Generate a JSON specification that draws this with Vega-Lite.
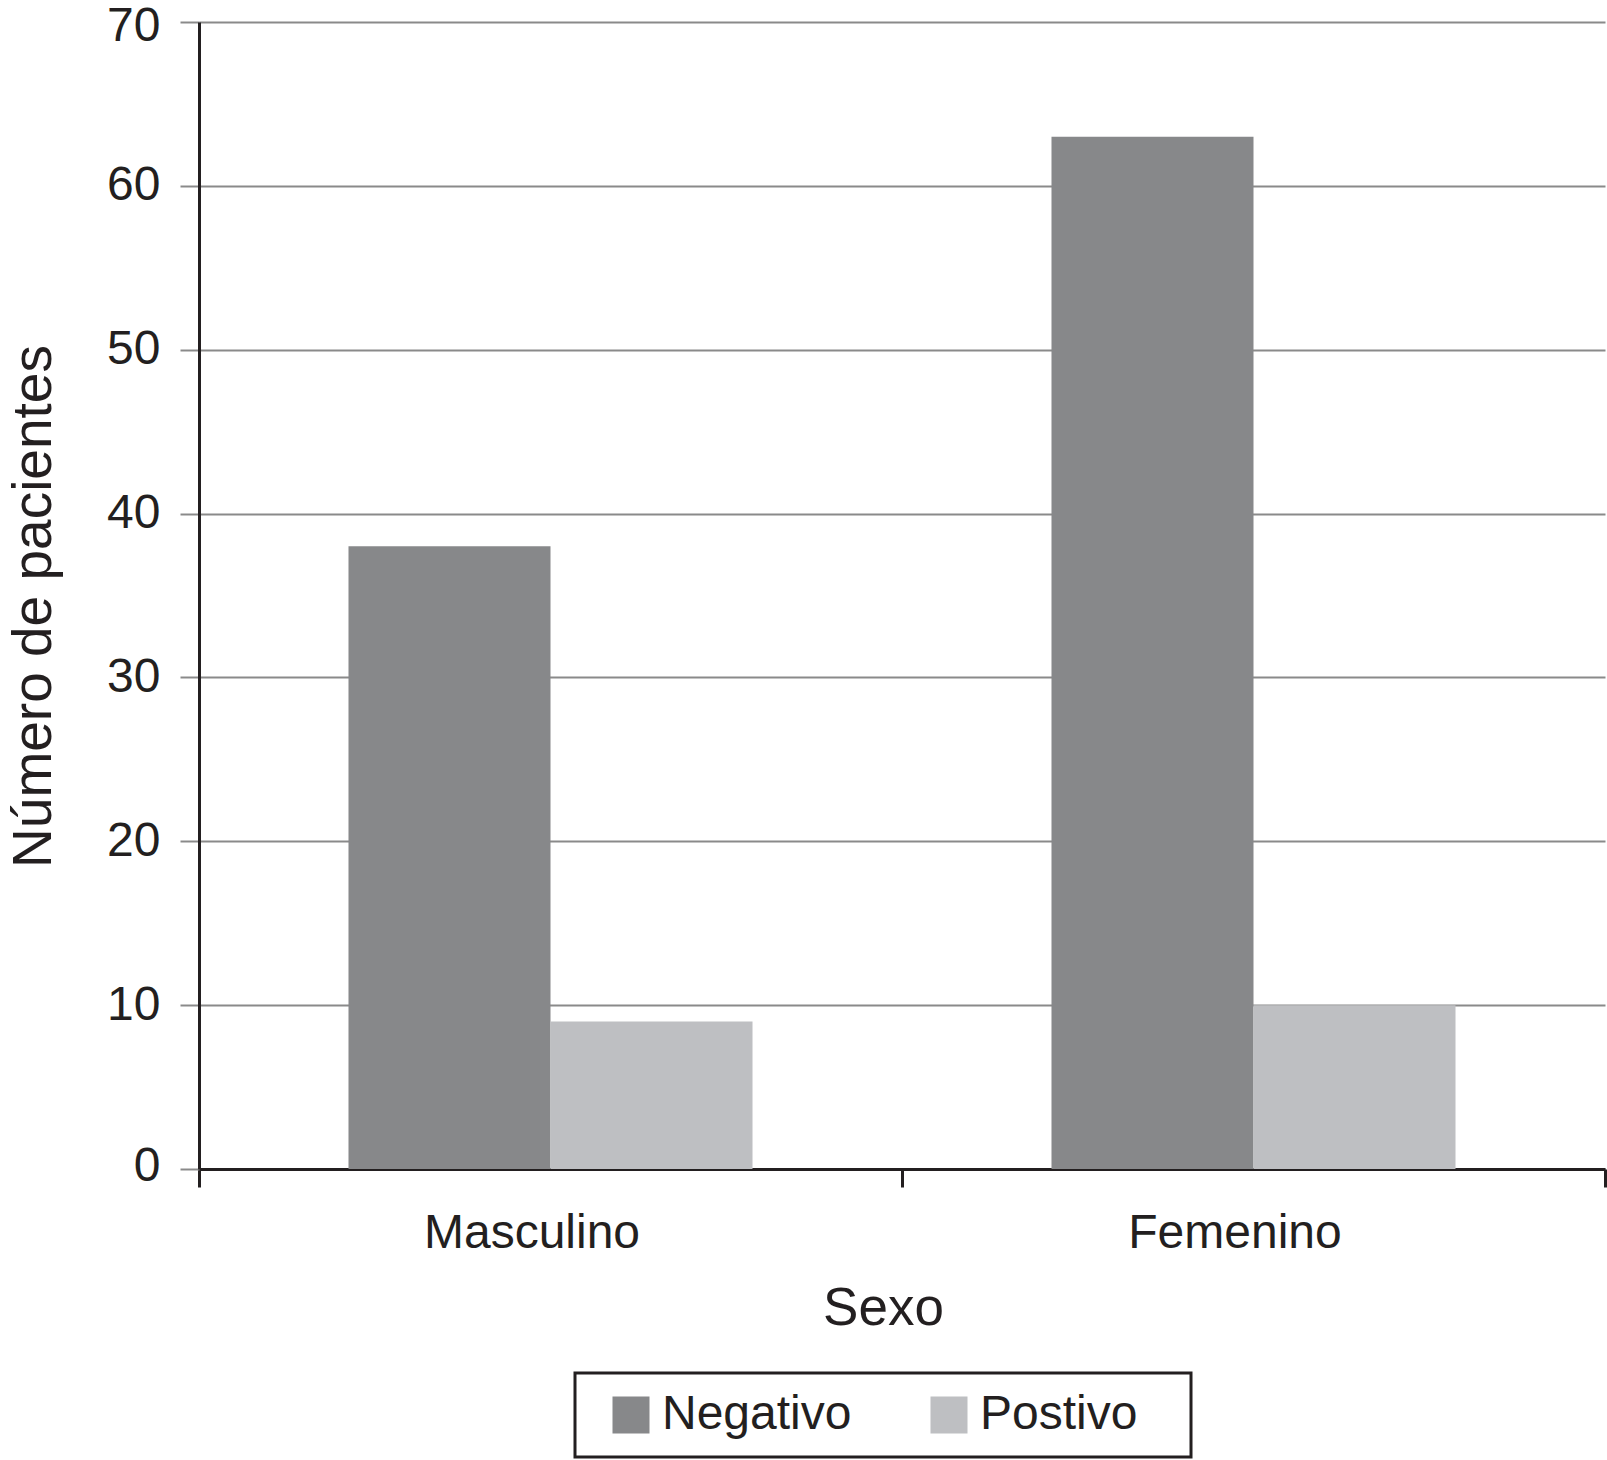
{
  "$schema": "https://vega.github.io/schema/vega-lite/v6.json",
  "width": 1406,
  "height": 1147,
  "autosize": {"type": "none"},
  "padding": {"left": 199, "top": 22, "right": 2, "bottom": 291},
  "background": "white",
  "config": {"view": {"stroke": null}, "font": "Liberation Sans"},
  "data": {
    "values": [
      {"sexo": "Masculino", "resultado": "Negativo", "n": 38},
      {"sexo": "Masculino", "resultado": "Postivo", "n": 9},
      {"sexo": "Femenino", "resultado": "Negativo", "n": 63},
      {"sexo": "Femenino", "resultado": "Postivo", "n": 10}
    ]
  },
  "mark": {"type": "bar"},
  "encoding": {
    "x": {
      "field": "sexo",
      "type": "nominal",
      "sort": ["Masculino", "Femenino"],
      "scale": {"paddingInner": 0, "paddingOuter": 0},
      "axis": {
        "labelAngle": 0,
        "labelFontSize": 48,
        "labelLimit": 500,
        "labelColor": "#231f20",
        "labelPadding": 22,
        "labelOffset": -19,
        "tickBand": "extent",
        "tickColor": "#231f20",
        "tickWidth": 3,
        "tickSize": 18,
        "domainColor": "#231f20",
        "domainWidth": 3,
        "grid": false,
        "title": "Sexo",
        "titleFontSize": 53,
        "titleFontWeight": "normal",
        "titleColor": "#231f20",
        "titleX": 684,
        "titleY": 155,
        "titleBaseline": "alphabetic",
        "titleAlign": "center"
      }
    },
    "xOffset": {
      "field": "resultado",
      "type": "nominal",
      "sort": ["Negativo", "Postivo"],
      "scale": {"paddingOuter": 0.74, "paddingInner": 0}
    },
    "y": {
      "field": "n",
      "type": "quantitative",
      "scale": {"domain": [0, 70], "nice": false},
      "axis": {
        "values": [0, 10, 20, 30, 40, 50, 60, 70],
        "grid": true,
        "gridColor": "#8a8a8a",
        "gridWidth": 2,
        "tickColor": "#8a8a8a",
        "tickWidth": 2,
        "tickSize": 19,
        "domainColor": "#231f20",
        "domainWidth": 3,
        "labelFontSize": 48,
        "labelColor": "#231f20",
        "labelPadding": 20,
        "labelOffset": {"condition": [{"test": "datum.value == 70", "value": 4}, {"test": "datum.value == 0", "value": -3}], "value": 0},
        "title": "Número de pacientes",
        "titleFontSize": 55,
        "titleFontWeight": "normal",
        "titleColor": "#231f20",
        "titleAngle": -90,
        "titleX": -149,
        "titleY": 584,
        "titleBaseline": "alphabetic",
        "titleAlign": "center"
      }
    },
    "color": {
      "field": "resultado",
      "type": "nominal",
      "scale": {"domain": ["Negativo", "Postivo"], "range": ["#87888a", "#bebfc2"]},
      "legend": {
        "title": null,
        "orient": "none",
        "legendX": 376,
        "legendY": 1351,
        "direction": "horizontal",
        "columns": 2,
        "columnPadding": 59,
        "padding": 18,
        "symbolOffset": 14,
        "strokeColor": "#231f20",
        "symbolType": "square",
        "symbolSize": 1370,
        "symbolStrokeWidth": 0,
        "symbolOpacity": 1,
        "labelFontSize": 48,
        "labelLimit": 500,
        "labelColor": "#231f20",
        "labelOffset": 7,
        "labelExpr": "datum.value == 'Postivo' ? 'Postivo\u2800' : datum.value",
        "encode": {"legend": {"update": {"strokeWidth": {"value": 3}}}}
      }
    }
  }
}
